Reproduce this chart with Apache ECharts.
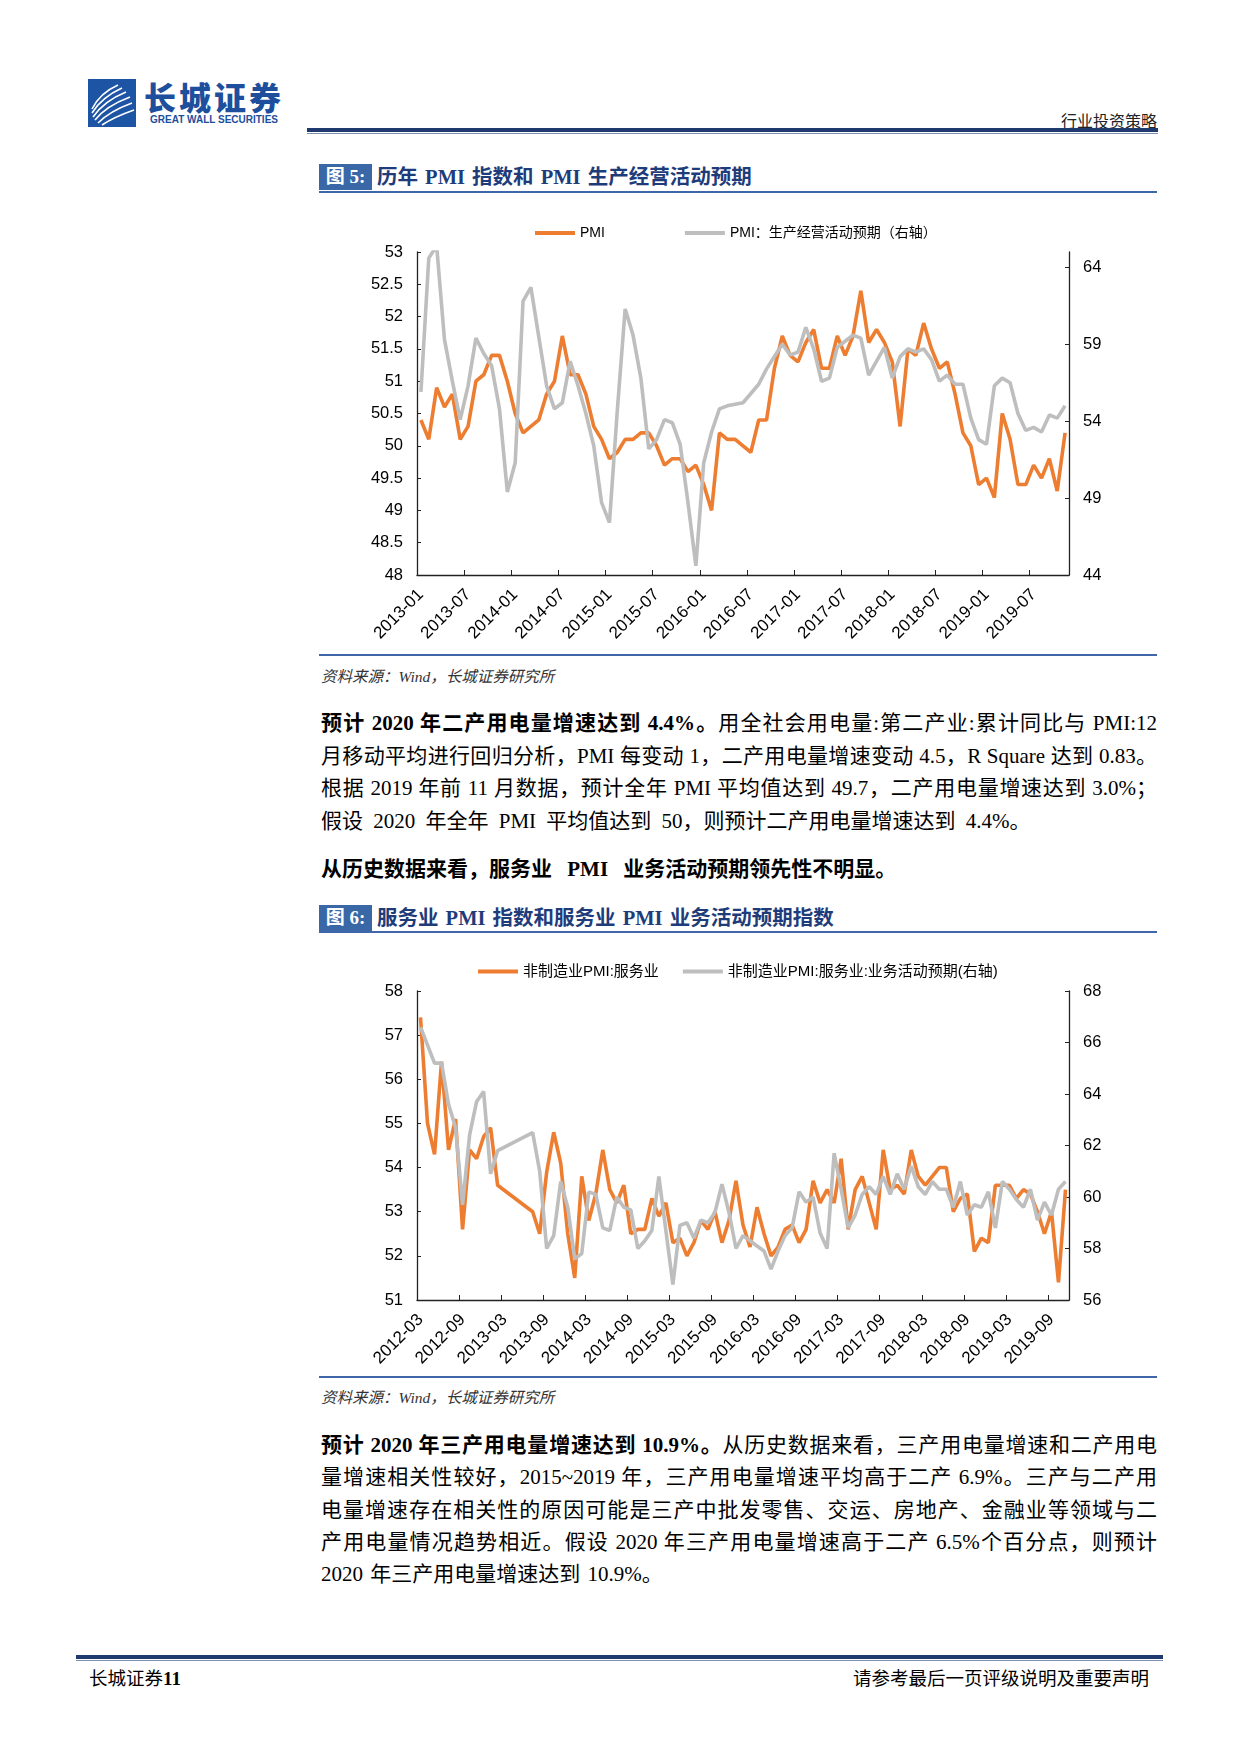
<!DOCTYPE html>
<html><head><meta charset="utf-8">
<script src="https://cdn.jsdelivr.net/npm/echarts@6/dist/echarts.min.js"></script>
<style>
html,body{margin:0;padding:0;background:#fff;}
body{width:1240px;height:1754px;position:relative;overflow:hidden;font-family:"Liberation Serif","Noto Sans CJK SC",serif;color:#000;}
.abs{position:absolute;}
.jl{position:absolute;left:321px;width:836px;text-align:justify;text-align-last:justify;font-size:21px;line-height:26px;white-space:normal;}
.jl.last{text-align-last:left;word-spacing:5px;}
b{font-weight:bold;}
.src{position:absolute;left:321px;font-size:15.5px;font-style:italic;color:#333;}
.rule{position:absolute;background:#3e66a8;}
.figbox{position:absolute;left:319px;width:53px;height:26px;background:#3a68a6;color:#fff;font-weight:bold;font-size:19px;line-height:26px;text-align:center;}
.figtitle{position:absolute;left:377px;font-weight:bold;font-size:20.5px;line-height:26px;color:#1f3c7a;word-spacing:2px;}
</style>
</head><body>

<!-- header -->
<svg class="abs" style="left:88px;top:79px" width="48" height="48" viewBox="0 0 48 48">
  <rect width="48" height="48" fill="#1d55a4"/>
  <g fill="none" stroke="#fff" stroke-width="1.6">
    <path d="M4 30 Q 12 14 30 6"/>
    <path d="M4 34 Q 14 18 34 9"/>
    <path d="M5 38 Q 16 22 38 13"/>
    <path d="M7 41 Q 18 27 42 18"/>
    <path d="M10 44 Q 22 32 44 24"/>
    <path d="M14 46 Q 26 38 46 31"/>
  </g>
</svg>
<div class="abs" style="left:144px;top:76px;font-family:'Noto Sans CJK SC';font-weight:900;font-size:32px;letter-spacing:3px;color:#1d4f9c;line-height:40px;">长城证券</div>
<div class="abs" style="left:150px;top:114px;font-family:'Liberation Sans';font-weight:bold;font-size:10px;color:#1d4f9c;">GREAT WALL SECURITIES</div>
<div class="abs" style="left:1000px;top:108px;width:157px;text-align:right;font-size:16px;font-family:'Noto Sans CJK SC';color:#222;">行业投资策略</div>
<div class="abs" style="left:307px;top:128px;width:851px;height:4px;background:#1f3a6e;"></div>
<div class="abs" style="left:307px;top:133px;width:851px;height:1px;background:#7f8fb0;"></div>

<!-- figure 5 -->
<div class="figbox" style="top:164px;">图 5:</div>
<div class="figtitle" style="top:164px;">历年 PMI 指数和 PMI 生产经营活动预期</div>
<div class="rule" style="left:319px;top:191px;width:838px;height:1.5px;"></div>
<div id="c1" class="abs" style="left:300px;top:200px;width:880px;height:450px;"></div>
<div class="rule" style="left:319px;top:654px;width:838px;height:2px;"></div>
<div class="src" style="top:664px;">资料来源：Wind，长城证券研究所</div>

<div class="jl" style="top:710px;"><b>预计 2020 年二产用电量增速达到 4.4%。</b>用全社会用电量:第二产业:累计同比与 PMI:12</div>
<div class="jl" style="top:743px;">月移动平均进行回归分析，PMI 每变动 1，二产用电量增速变动 4.5，R Square 达到 0.83。</div>
<div class="jl" style="top:775px;">根据 2019 年前 11 月数据，预计全年 PMI 平均值达到 49.7，二产用电量增速达到 3.0%；</div>
<div class="jl last" style="top:808px;">假设 2020 年全年 PMI 平均值达到 50，则预计二产用电量增速达到 4.4%。</div>

<div class="jl last" style="top:856px;word-spacing:10px;"><b>从历史数据来看，服务业 PMI 业务活动预期领先性不明显。</b></div>

<!-- figure 6 -->
<div class="figbox" style="top:905px;">图 6:</div>
<div class="figtitle" style="top:905px;">服务业 PMI 指数和服务业 PMI 业务活动预期指数</div>
<div class="rule" style="left:319px;top:931px;width:838px;height:1.5px;"></div>
<div id="c2" class="abs" style="left:300px;top:940px;width:880px;height:430px;"></div>
<div class="rule" style="left:319px;top:1376px;width:838px;height:2px;"></div>
<div class="src" style="top:1385px;">资料来源：Wind，长城证券研究所</div>

<div class="jl" style="top:1432px;"><b>预计 2020 年三产用电量增速达到 10.9%。</b>从历史数据来看，三产用电量增速和二产用电</div>
<div class="jl" style="top:1464px;">量增速相关性较好，2015~2019 年，三产用电量增速平均高于二产 6.9%。三产与二产用</div>
<div class="jl" style="top:1497px;">电量增速存在相关性的原因可能是三产中批发零售、交运、房地产、金融业等领域与二</div>
<div class="jl" style="top:1529px;">产用电量情况趋势相近。假设 2020 年三产用电量增速高于二产 6.5%个百分点，则预计</div>
<div class="jl last" style="top:1561px;word-spacing:2px;">2020 年三产用电量增速达到 10.9%。</div>

<!-- footer -->
<div class="abs" style="left:76px;top:1655px;width:1087px;height:4px;background:#1f3a6e;"></div>
<div class="abs" style="left:76px;top:1660px;width:1087px;height:1px;background:#7f8fb0;"></div>
<div class="abs" style="left:89px;top:1664px;font-size:18.5px;font-family:'Noto Sans CJK SC';">长城证券<span style="font-family:'Liberation Serif';font-size:19px;font-weight:bold;">11</span></div>
<div class="abs" style="left:800px;top:1664px;width:349px;text-align:right;font-size:18.5px;font-family:'Noto Sans CJK SC';">请参考最后一页评级说明及重要声明</div>

<script>
// ---------- data ----------
function monthLabels(y, m, n) {
  var a = [];
  for (var k = 0; k < n; k++) {
    var yy = y + Math.floor((m - 1 + k) / 12);
    var mm = (m - 1 + k) % 12 + 1;
    a.push(yy + '-' + (mm < 10 ? '0' + mm : mm));
  }
  return a;
}
var pmiMonths = monthLabels(2013, 1, 83);      // 2013-01 .. 2019-11
var svcMonths = monthLabels(2012, 3, 93);      // 2012-03 .. 2019-11

var pmiName = 'PMI';
var expName = 'PMI：生产经营活动预期（右轴）';
var pmi = [
  50.4, 50.1, 50.9, 50.6, 50.8, 50.1, 50.3, 51.0, 51.1, 51.4, 51.4, 51.0,
  50.5, 50.2, 50.3, 50.4, 50.8, 51.0, 51.7, 51.1, 51.1, 50.8, 50.3, 50.1,
  49.8, 49.9, 50.1, 50.1, 50.2, 50.2, 50.0, 49.7, 49.8, 49.8, 49.6, 49.7,
  49.4, 49.0, 50.2, 50.1, 50.1, 50.0, 49.9, 50.4, 50.4, 51.2, 51.7, 51.4,
  51.3, 51.6, 51.8, 51.2, 51.2, 51.7, 51.4, 51.7, 52.4, 51.6, 51.8, 51.6,
  51.3, 50.3, 51.5, 51.4, 51.9, 51.5, 51.2, 51.3, 50.8, 50.2, 50.0, 49.4,
  49.5, 49.2, 50.5, 50.1, 49.4, 49.4, 49.7, 49.5, 49.8, 49.3, 50.2
];
var pmiExpect = [
  55.9, 64.6, 65.4, 59.3, 56.6, 54.1, 56.3, 59.4, 58.4, 57.6, 54.8, 49.4,
  51.3, 61.8, 62.7, 59.5, 56.3, 54.8, 55.2, 57.9, 56.3, 54.5, 52.4, 48.7,
  47.4, 54.7, 61.3, 59.6, 56.8, 52.2, 52.8, 54.1, 53.9, 52.5, 48.7, 44.6,
  51.3, 53.3, 54.8, 55.0, 55.1, 55.2, 55.8, 56.4, 57.4, 58.2, 59.0, 58.3,
  58.5, 60.1, 58.7, 56.6, 56.8, 58.8, 59.2, 59.6, 59.4, 57.0, 57.9, 58.8,
  56.8, 58.2, 58.7, 58.5, 58.7, 58.0, 56.6, 57.0, 56.4, 56.4, 54.2, 52.8,
  52.5, 56.3, 56.8, 56.5, 54.5, 53.4, 53.6, 53.3, 54.4, 54.2, 55.0
];

var svcName = '非制造业PMI:服务业';
var svcExpName = '非制造业PMI:服务业:业务活动预期(右轴)';
var svcPmi = [
  57.4, 55.0, 54.3, 56.4, 54.4, 55.1, 52.6, 54.4, 54.2, 54.7, 54.9, 53.6,
  null, null, null, null, 53.0, 52.5, 53.9, 54.8, 54.1, 52.5, 51.5, 53.8,
  52.8, 53.4, 54.4, 53.5, 53.2, 53.6, 52.5, 52.6, 52.6, 53.3, 52.9, 53.2,
  52.3, 52.4, 52.0, 52.3, 52.8, 52.6, 53.0, 52.3, 52.8, 53.7, 52.7, 52.2,
  53.1, 52.5, 52.0, 52.2, 52.6, 52.7, 52.3, 52.6, 53.7, 53.2, 53.5, 53.2,
  54.2, 52.6, 53.5, 53.8, 53.2, 52.6, 54.4, 53.5, 53.6, 53.4, 54.4, 53.8,
  53.6, 53.8, 54.0, 54.0, 53.0, 53.3, 53.4, 52.1, 52.4, 52.3, 53.6, 53.6,
  53.6, 53.3, 53.5, 53.4, 53.0, 52.5, 53.0, 51.4, 53.5
];
var svcExpect = [
  66.6, 65.9, 65.2, 65.2, 63.6, 62.7, 59.7, 62.4, 63.7, 64.1, 60.9, 61.8,
  null, null, null, null, 62.5, 61.0, 58.0, 58.5, 60.6, 59.6, 57.6, 57.8,
  60.2, 60.1, 58.8, 58.7, 60.0, 59.6, 59.5, 58.0, 58.3, 58.7, 60.8, 58.7,
  56.6, 58.9, 59.0, 58.4, 59.1, 59.0, 59.4, 60.5, 59.4, 58.0, 58.5, 58.3,
  58.1, 57.9, 57.2, 57.9, 58.5, 58.8, 60.2, 59.8, 60.0, 58.6, 58.0, 61.7,
  60.3, 58.8, 59.3, 60.1, 60.4, 60.1, 60.8, 60.1, 60.9, 60.3, 61.2, 60.4,
  60.1, 60.6, 60.3, 60.3, 59.6, 60.6, 59.3, 59.7, 59.6, 60.2, 58.8, 60.6,
  60.3, 59.9, 59.6, 60.3, 59.1, 59.8, 59.3, 60.3, 60.6
];

var ORANGE = '#ED7D31';
var GREY = '#BEBEBE';
var FONT = '"Liberation Sans","Noto Sans CJK SC",sans-serif';

function axisY(min, max, interval, pos, hideMax) {
  return {
    type: 'value', min: min, max: max, interval: interval, position: pos,
    axisLine: { show: true, lineStyle: { color: '#222', width: 1.3 } },
    axisTick: { show: true, inside: true, length: 4, lineStyle: { color: '#222' } },
    splitLine: { show: false },
    axisLabel: { fontSize: 16.5, color: '#000', margin: 14, fontFamily: FONT, showMaxLabel: hideMax ? false : true }
  };
}
function axisX(cats) {
  return {
    type: 'category', data: cats, boundaryGap: true,
    axisLine: { lineStyle: { color: '#222', width: 1.3 } },
    axisTick: { show: true, inside: true, length: 5, interval: 5, lineStyle: { color: '#222' } },
    axisLabel: { interval: 5, rotate: 45, fontSize: 17, color: '#000', margin: 17, fontFamily: FONT }
  };
}
function lineSeries(name, data, color, yi) {
  return {
    name: name, type: 'line', data: data, yAxisIndex: yi, showSymbol: false, symbol: 'none',
    connectNulls: true, clip: true,
    lineStyle: { color: color, width: 3.6 }, itemStyle: { color: color }
  };
}

var c1 = echarts.init(document.getElementById('c1'), null, { renderer: 'canvas' });
c1.setOption({
  animation: false,
  textStyle: { fontFamily: FONT },
  legend: {
    left: 230, top: 21, itemWidth: 40, itemHeight: 4, itemGap: 80, icon: 'rect',
    textStyle: { fontSize: 14, color: '#000', fontFamily: FONT },
    data: [pmiName, expName]
  },
  grid: { left: 117, top: 52, width: 652, height: 323, containLabel: false, outerBoundsMode: 'none' },
  xAxis: axisX(pmiMonths),
  yAxis: [axisY(48, 53, 0.5, 'left', false), axisY(44, 65, 5, 'right', true)],
  series: [lineSeries(pmiName, pmi, ORANGE, 0), lineSeries(expName, pmiExpect, GREY, 1)]
});

var c2 = echarts.init(document.getElementById('c2'), null, { renderer: 'canvas' });
c2.setOption({
  animation: false,
  textStyle: { fontFamily: FONT },
  legend: {
    left: 173, top: 19, itemWidth: 40, itemHeight: 4, itemGap: 24, icon: 'rect',
    textStyle: { fontSize: 15, color: '#000', fontFamily: FONT },
    data: [svcName, svcExpName]
  },
  grid: { left: 117, top: 51, width: 652, height: 309, containLabel: false, outerBoundsMode: 'none' },
  xAxis: axisX(svcMonths),
  yAxis: [axisY(51, 58, 1, 'left', false), axisY(56, 68, 2, 'right', false)],
  series: [lineSeries(svcName, svcPmi, ORANGE, 0), lineSeries(svcExpName, svcExpect, GREY, 1)]
});
</script>
</body></html>
